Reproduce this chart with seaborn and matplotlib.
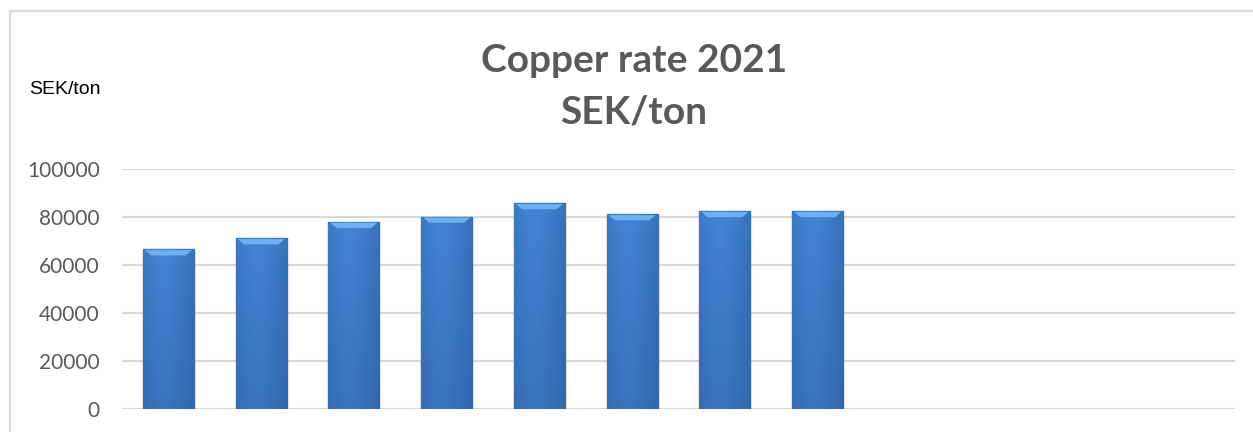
import matplotlib
matplotlib.use("Agg")
import matplotlib.pyplot as plt
from matplotlib.patches import Rectangle, Polygon
import numpy as np
import pandas as pd
import seaborn as sns

# Copper rate 2021, SEK/ton (Jan-Aug, rest of year empty)
months = ['Jan', 'Feb', 'Mar', 'Apr', 'May', 'Jun', 'Jul', 'Aug', 'Sep', 'Oct', 'Nov', 'Dec']
filled_months = ['Jan', 'Feb', 'Mar', 'Apr', 'May', 'Jun', 'Jul', 'Aug']
rates = [66500, 71100, 77900, 80100, 85700, 81100, 82400, 82400]
y_ticks = [0, 20000, 40000, 60000, 80000, 100000]

df = pd.DataFrame({'month': filled_months, 'rate': rates})

sns.set_style('white')
plt.rcParams['font.family'] = ['Lato', 'DejaVu Sans']

fig = plt.figure(figsize=(12.53, 4.32), dpi=100)
ax = fig.add_axes([0.0974, 0.0532, 0.8882, 0.5556])

sns.barplot(data=df, x='month', y='rate', order=months, color='#3a76c4',
            width=0.55, ax=ax, edgecolor='#5a6a80', linewidth=1.0, zorder=3)

# gradient shading on each bar, clipped to the bar itself
grad_x = np.linspace(0, 1, 64)
shade = 1 - 0.7 * np.abs(grad_x - 0.4) ** 1.4
grad_y = np.linspace(0, 1, 64)[:, None]
light = np.array([0x42, 0x84, 0xd4]) / 255
dark = np.array([0x24, 0x4c, 0x88]) / 255
for bar in ax.patches:
    if not np.isfinite(bar.get_height()) or bar.get_height() == 0:
        continue
    x0, y0 = bar.get_x(), bar.get_y()
    w, h = bar.get_width(), bar.get_height()
    mix = (shade[None, :] * (0.72 + 0.28 * grad_y))[..., None]
    img = dark + (light - dark) * mix
    im = ax.imshow(img, extent=[x0, x0 + w, y0, y0 + h], origin='lower',
                   aspect='auto', zorder=3.5, interpolation='bilinear')
    im.set_clip_path(bar)
    # light bevel at the top of the bar
    top = y0 + h
    bev = Polygon([(x0 + w * 0.04, top - 300), (x0 + w * 0.96, top - 300),
                   (x0 + w * 0.84, top - 2500), (x0 + w * 0.16, top - 2500)],
                  closed=True, facecolor='#6cb0ef', edgecolor='none', zorder=4)
    ax.add_patch(bev)

ax.set_xlim(-0.5, 11.5)
ax.set_ylim(0, 100000)
ax.set_yticks(y_ticks)
ax.set_yticklabels([str(v) for v in y_ticks])
ax.set_xticks(range(len(months)))
ax.set_xticklabels([''] * len(months))
ax.set_xlabel('')
ax.set_ylabel('')
ax.tick_params(axis='both', length=0)
ax.tick_params(axis='y', pad=16, labelsize=15, labelcolor='#595959')
ax.yaxis.grid(True, color='#d9d9d9', linewidth=1.6, zorder=0)
ax.set_axisbelow(True)
for s in ax.spines.values():
    s.set_visible(False)

fig.text(634 / 1253, 1 - 60 / 432, 'Copper rate 2021', ha='center', va='center',
         fontsize=28, fontweight='bold', color='#595959')
fig.text(634 / 1253, 1 - 112 / 432, 'SEK/ton', ha='center', va='center',
         fontsize=28, fontweight='bold', color='#595959')
fig.text(29 / 1253, 1 - 90 / 432, 'SEK/ton', ha='left', va='center',
         fontsize=14, color='black', family=['Liberation Sans'])

# light grey chart border (cut off at right and bottom)
fig.patches.append(Rectangle((10 / 1253, -0.1), 1.2, 1 - 11 / 432 + 0.1,
                             transform=fig.transFigure, fill=False,
                             edgecolor='#d9d9d9', linewidth=1.6))

fig.savefig('out.png', dpi=100)
